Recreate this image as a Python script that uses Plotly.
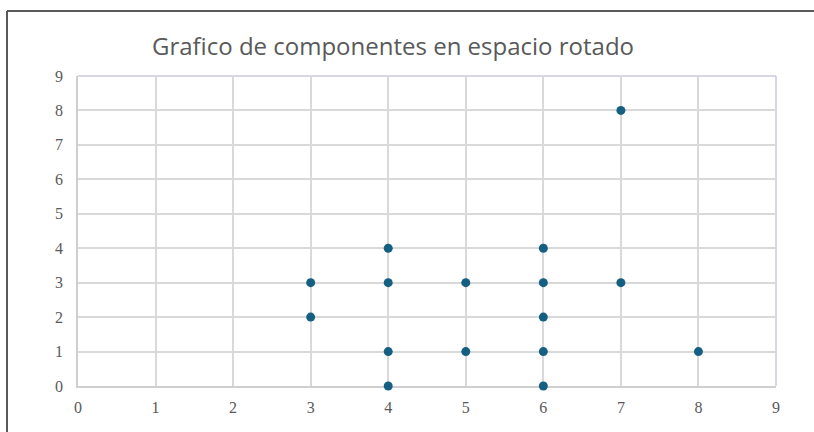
import plotly.graph_objects as go

title = "Grafico de componentes en espacio rotado"
x_vals = [3, 3, 4, 4, 4, 4, 5, 5, 6, 6, 6, 6, 6, 7, 7, 8]
y_vals = [3, 2, 4, 3, 1, 0, 3, 1, 4, 3, 2, 1, 0, 8, 3, 1]
tick_vals = list(range(0, 10))

W, H = 814, 432
L, R, T, B = 78, 38, 76, 46
pw, ph = W - L - R, H - T - B

def px_x(p):
    return (p - L) / pw

def px_y(p):
    return (H - B - p) / ph

fig = go.Figure(go.Scatter(
    x=x_vals, y=y_vals, mode="markers",
    marker=dict(color="#155f82", size=9, line=dict(width=0)),
    cliponaxis=False, hoverinfo="x+y",
))

axis_common = dict(
    range=[0, 9], tickvals=tick_vals, showgrid=True, gridcolor="#d9d9d9", gridwidth=1.5,
    zeroline=False, showline=True, linecolor="#cfcfcf", linewidth=1.5, ticks="",
    tickfont=dict(family="Liberation Serif, DejaVu Serif, serif", size=16, color="#595959"),
    fixedrange=True, layer="below traces",
)

fig.update_layout(
    width=W, height=H,
    margin=dict(l=L, r=R, t=T, b=B),
    paper_bgcolor="white", plot_bgcolor="white",
    showlegend=False,
    title=dict(text=title, x=(393 / W), xanchor="center", y=1 - 47 / H, yanchor="middle",
               font=dict(family="Open Sans, Lato, sans-serif", size=24, color="#595959")),
    xaxis=dict(**axis_common, ticklabelstandoff=6),
    yaxis=dict(**axis_common, ticklabelstandoff=10),
    shapes=[
        dict(type="line", xref="paper", yref="paper", x0=0, x1=1, y0=1, y1=1, layer="below",
             line=dict(color="#c9c9de", width=1.5)),
        dict(type="line", xref="paper", yref="paper", x0=1, x1=1, y0=0, y1=1, layer="below",
             line=dict(color="#c9c9de", width=1.5)),
        dict(type="line", xref="paper", yref="paper", x0=px_x(7), x1=px_x(7), y0=px_y(11), y1=px_y(H + 5),
             line=dict(color="#595959", width=2)),
        dict(type="line", xref="paper", yref="paper", x0=px_x(7), x1=px_x(W + 5), y0=px_y(11), y1=px_y(11),
             line=dict(color="#595959", width=2)),
    ],
)

fig.write_html("out.html", config={"displayModeBar": False},
               post_script="document.body.style.margin='0';document.body.style.overflow='hidden';")
